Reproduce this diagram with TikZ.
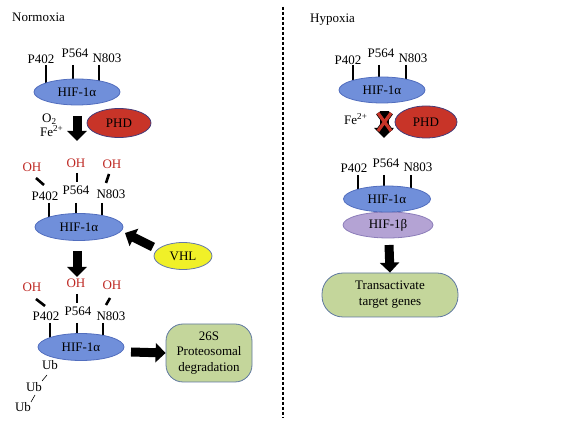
\documentclass[tikz,border=0pt]{standalone}
\usepackage{fontspec}
\setmainfont{Liberation Serif}
\usetikzlibrary{shapes.geometric,arrows.meta,backgrounds}
\definecolor{hifblue}{RGB}{112,143,218}
\definecolor{hifedge}{RGB}{82,110,190}
\definecolor{phdred}{RGB}{200,52,40}
\definecolor{phdedge}{RGB}{70,60,120}
\definecolor{vhlyel}{RGB}{240,240,40}
\definecolor{vhledge}{RGB}{100,120,170}
\definecolor{boxgreen}{RGB}{196,214,155}
\definecolor{boxedge}{RGB}{95,120,160}
\definecolor{betapurple}{RGB}{180,163,212}
\definecolor{betaedge}{RGB}{140,125,185}
\definecolor{ohred}{RGB}{190,40,35}
\begin{document}
\begin{tikzpicture}[x=1pt,y=-1pt,
  every node/.style={font=\fontsize{13}{14}\selectfont, inner sep=0pt},
  lab/.style={},
  ohlab/.style={text=ohred},
  hif/.style={ellipse, draw=hifedge, line width=0.8pt, fill=hifblue, minimum width=86pt, minimum height=26pt},
  hifb/.style={ellipse, draw=betaedge, line width=0.8pt, fill=betapurple, minimum width=90pt, minimum height=26pt},
  phd/.style={ellipse, draw=phdedge, line width=0.8pt, fill=phdred, minimum width=64pt, minimum height=29pt},
  vhl/.style={ellipse, draw=vhledge, line width=0.8pt, fill=vhlyel, minimum width=58pt, minimum height=27pt},
  gbox/.style={draw=boxedge, line width=0.8pt, fill=boxgreen, align=center, font=\fontsize{13}{15.5}\selectfont},
  stick/.style={line width=2.6pt},
  tick/.style={line width=2.6pt},
  ubline/.style={line width=0.6pt},
  blk/.style={line width=9pt, -{Triangle[length=10pt,width=19pt]}},
  sep/.style={line width=1.8pt, dash pattern=on 3pt off 2pt}
]
\useasboundingbox (0,0) rectangle (571,427);

% titles
\node[anchor=west] (tnorm) at (12,17) {Normoxia};
\node[anchor=west] (thyp) at (310,20) {Hypoxia};

% separator
\coordinate (sepTop) at (283,7);
\coordinate (sepBot) at (283,418);
\draw[sep] (sepTop) -- (sepBot);

%%%%%%%% Normoxia section 1
\node[hif] (h1) at (77,92) {HIF-1α};
\node[lab] (a1) at (41,59) {P402};
\node[lab] (b1) at (75,53) {P564};
\node[lab] (c1) at (107,58) {N803};
\coordinate (a1s) at (46,65); \coordinate (a1e) at (46,92);
\coordinate (b1s) at (73,65); \coordinate (b1e) at (73,92);
\coordinate (c1s) at (99,65); \coordinate (c1e) at (99,92);
\begin{scope}[on background layer]
\draw[stick] (a1s) -- (a1e);
\draw[stick] (b1s) -- (b1e);
\draw[stick] (c1s) -- (c1e);
\end{scope}
\node[anchor=west] (o2) at (42,119) {O\textsubscript{2}};
\node[anchor=west] (fe1) at (40,131) {Fe\textsuperscript{2+}};
\node[phd] (phd1) at (119,123) {PHD};
\coordinate (ar1s) at (77,116);
\coordinate (ar1e) at (77,141);
\draw[blk] (ar1s) -- (ar1e);

%%%%%%%% Normoxia section 2
\node[hif, minimum width=88pt, minimum height=27pt] (h2) at (79,227) {HIF-1α};
\node[ohlab] (oh2a) at (32,167) {OH};
\node[ohlab] (oh2b) at (76,163) {OH};
\node[ohlab] (oh2c) at (112,164) {OH};
\coordinate (t2a1) at (36,178); \coordinate (t2a2) at (44,185);
\coordinate (t2b1) at (77,173); \coordinate (t2b2) at (77,182);
\coordinate (t2c1) at (109,174); \coordinate (t2c2) at (106,183);
\draw[tick] (t2a1) -- (t2a2);
\draw[tick] (t2b1) -- (t2b2);
\draw[tick] (t2c1) -- (t2c2);
\node[lab] (a2) at (45,196) {P402};
\node[lab] (b2) at (76,190) {P564};
\node[lab] (c2) at (111,194) {N803};
\coordinate (a2s) at (49,203); \coordinate (a2e) at (49,227);
\coordinate (b2s) at (76,203); \coordinate (b2e) at (76,227);
\coordinate (c2s) at (102,203); \coordinate (c2e) at (102,227);
\begin{scope}[on background layer]
\draw[stick] (a2s) -- (a2e);
\draw[stick] (b2s) -- (b2e);
\draw[stick] (c2s) -- (c2e);
\end{scope}
\node[vhl] (vhl) at (183,256) {VHL};
\coordinate (vhls) at (153,247);
\coordinate (vhle) at (125,233);
\draw[blk] (vhls) -- (vhle);
\coordinate (ar2s) at (77,251);
\coordinate (ar2e) at (77,277);
\draw[blk] (ar2s) -- (ar2e);

%%%%%%%% Normoxia section 3
\node[hif, minimum width=86pt, minimum height=27pt] (h3) at (81,347) {HIF-1α};
\node[ohlab] (oh3a) at (32,287) {OH};
\node[ohlab] (oh3b) at (76,283) {OH};
\node[ohlab] (oh3c) at (112,285) {OH};
\coordinate (t3a1) at (36,299); \coordinate (t3a2) at (45,306);
\coordinate (t3b1) at (77,294); \coordinate (t3b2) at (77,303);
\coordinate (t3c1) at (110,298); \coordinate (t3c2) at (106,305);
\draw[tick] (t3a1) -- (t3a2);
\draw[tick] (t3b1) -- (t3b2);
\draw[tick] (t3c1) -- (t3c2);
\node[lab] (a3) at (46,316) {P402};
\node[lab] (b3) at (78,311) {P564};
\node[lab] (c3) at (111,316) {N803};
\coordinate (a3s) at (50,323); \coordinate (a3e) at (50,347);
\coordinate (b3s) at (77,323); \coordinate (b3e) at (77,347);
\coordinate (c3s) at (103,323); \coordinate (c3e) at (103,347);
\begin{scope}[on background layer]
\draw[stick] (a3s) -- (a3e);
\draw[stick] (b3s) -- (b3e);
\draw[stick] (c3s) -- (c3e);
\end{scope}
\node[lab] (ub1) at (50,365) {Ub};
\node[lab] (ub2) at (34,387) {Ub};
\node[lab] (ub3) at (23,407) {Ub};
\coordinate (u1a) at (47,375); \coordinate (u1b) at (42,381);
\coordinate (u2a) at (35,395); \coordinate (u2b) at (31,402);
\draw[ubline] (u1a) -- (u1b);
\draw[ubline] (u2a) -- (u2b);
\node[gbox, rounded corners=17pt, minimum width=86pt, minimum height=58pt] (deg) at (209,353) {26S\\Proteosomal\\degradation};
\coordinate (ar3s) at (131,352);
\draw[blk] (ar3s) -- (deg.west);

%%%%%%%% Hypoxia section 1
\node[hif] (hh1) at (382,90) {HIF-1α};
\node[lab] (ha1) at (348,60) {P402};
\node[lab] (hb1) at (381,53) {P564};
\node[lab] (hc1) at (413,58) {N803};
\coordinate (ha1s) at (353,65); \coordinate (ha1e) at (353,90);
\coordinate (hb1s) at (379,65); \coordinate (hb1e) at (379,90);
\coordinate (hc1s) at (406,65); \coordinate (hc1e) at (406,90);
\begin{scope}[on background layer]
\draw[stick] (ha1s) -- (ha1e);
\draw[stick] (hb1s) -- (hb1e);
\draw[stick] (hc1s) -- (hc1e);
\end{scope}
\node[anchor=west] (fe2) at (344,119) {Fe\textsuperscript{2+}};
\coordinate (har1s) at (384,111);
\coordinate (har1e) at (384,138);
\draw[blk] (har1s) -- (har1e);
\coordinate (x1) at (378,113); \coordinate (x2) at (391,131);
\coordinate (x3) at (391,113); \coordinate (x4) at (378,131);
\draw[line width=4.6pt, black] (x1) -- (x2) (x3) -- (x4);
\draw[line width=3.2pt, phdred] (x1) -- (x2) (x3) -- (x4);
\node[phd, minimum width=62pt, minimum height=32pt] (phd2) at (426,122) {PHD};

%%%%%%%% Hypoxia section 2
\node[hifb] (hb) at (388,225) {HIF-1β};
\node[hif, minimum width=87pt] (hh2) at (387,199) {HIF-1α};
\node[lab] (ha2) at (354,168) {P402};
\node[lab] (hb2) at (386,163) {P564};
\node[lab] (hc2) at (418,167) {N803};
\coordinate (ha2s) at (358,175); \coordinate (ha2e) at (358,199);
\coordinate (hb2s) at (384,175); \coordinate (hb2e) at (384,199);
\coordinate (hc2s) at (411,175); \coordinate (hc2e) at (411,199);
\begin{scope}[on background layer]
\draw[stick] (ha2s) -- (ha2e);
\draw[stick] (hb2s) -- (hb2e);
\draw[stick] (hc2s) -- (hc2e);
\end{scope}
\node[gbox, rounded corners=21pt, minimum width=136pt, minimum height=44pt, font=\fontsize{13}{16}\selectfont] (tt) at (390,295) {Transactivate\\target genes};
\coordinate (har2s) at (389,245);
\draw[blk] (har2s) -- (tt.north);
\end{tikzpicture}
\end{document}
